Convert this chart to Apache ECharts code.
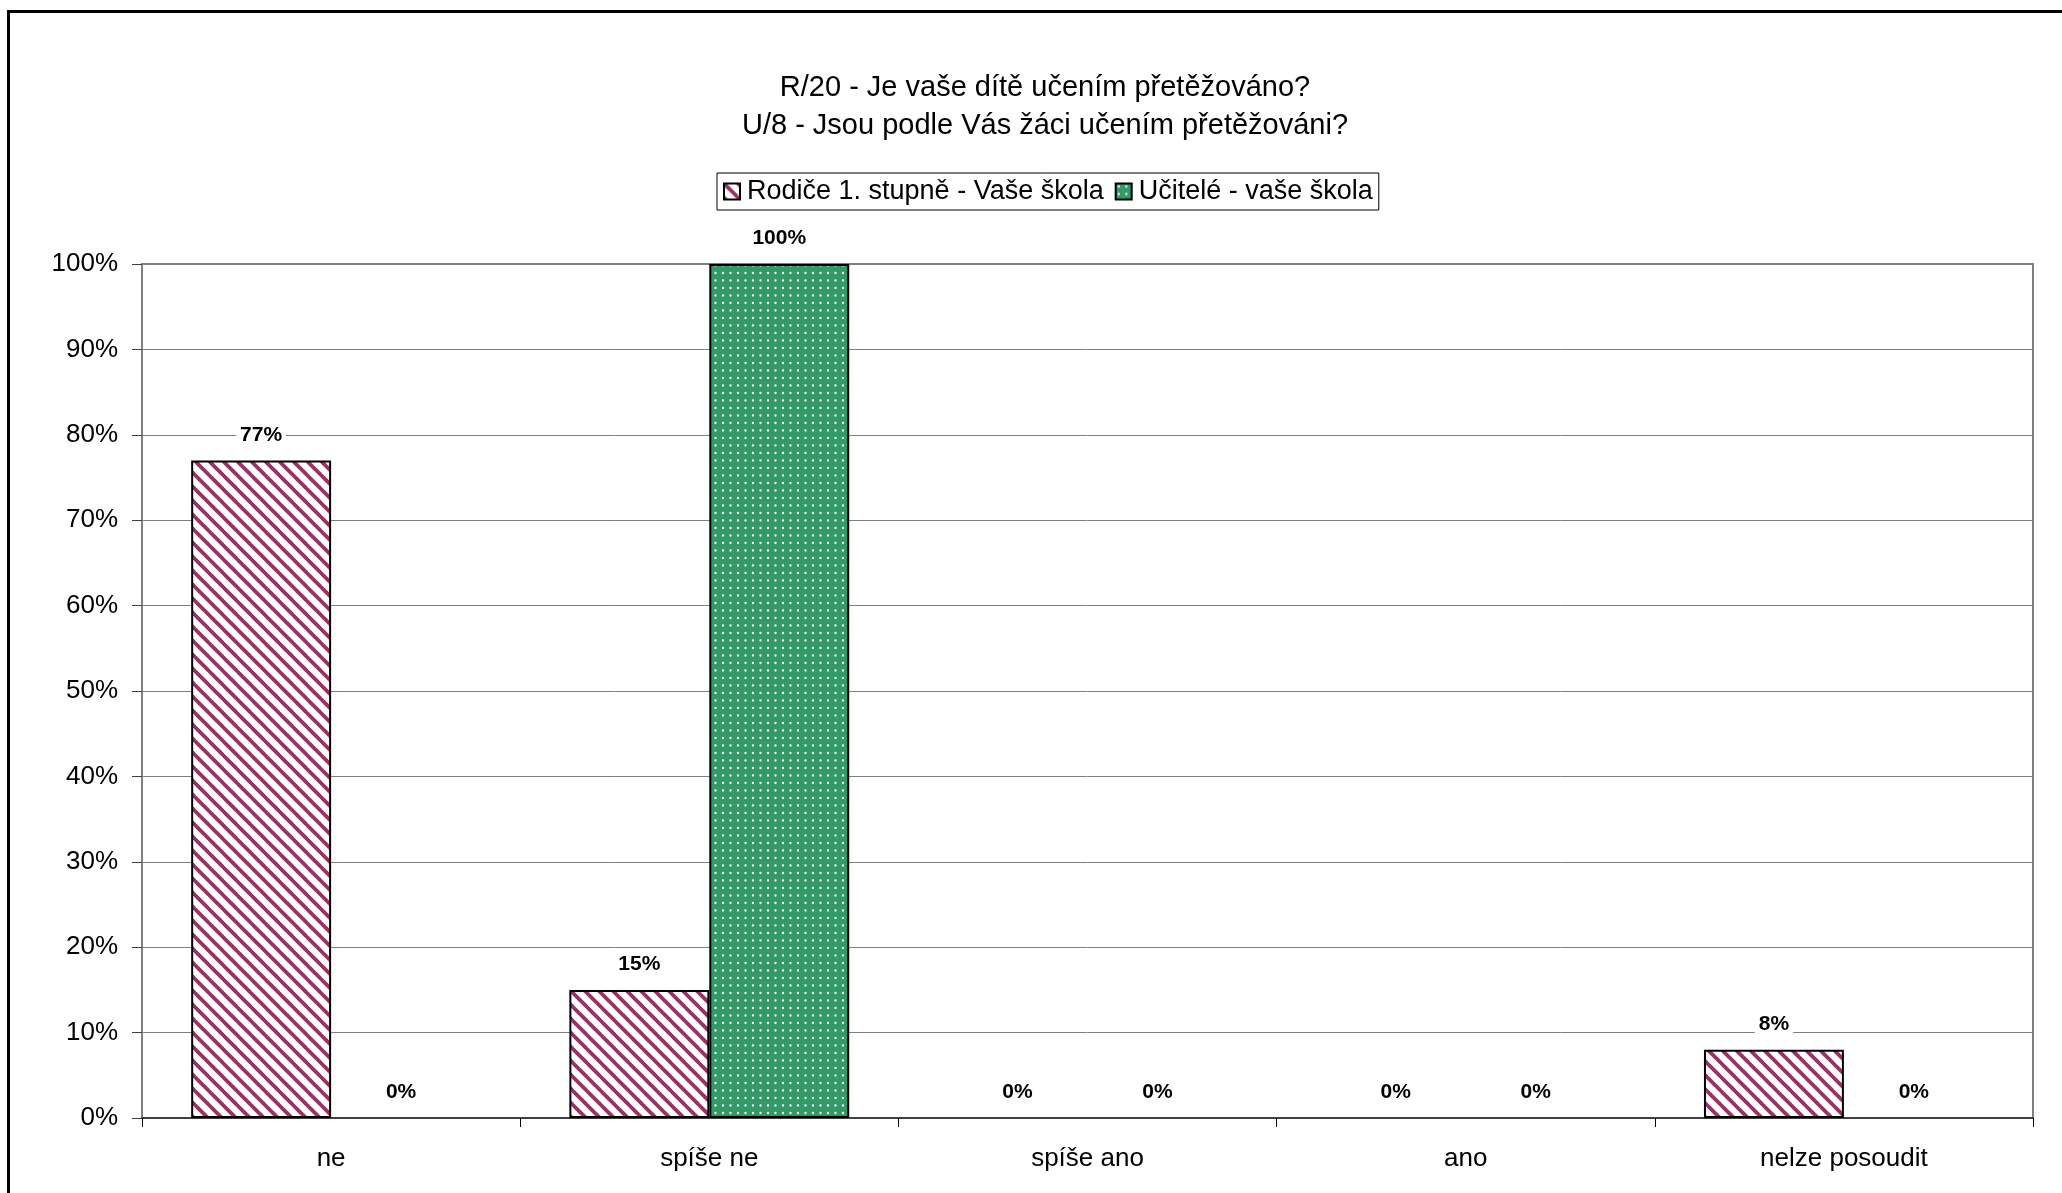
<!DOCTYPE html>
<html>
<head>
<meta charset="utf-8">
<script src="https://cdn.jsdelivr.net/npm/echarts@6/dist/echarts.min.js"></script>
<style>
html,body{margin:0;padding:0;background:#fff;}
#chart{width:2062px;height:1193px;}
</style>
</head>
<body>
<div id="chart"></div>
<script>
const titleLines = ['R/20 - Je vaše dítě učením přetěžováno?', 'U/8 - Jsou podle Vás žáci učením přetěžováni?'];
const categories = ['ne', 'spíše ne', 'spíše ano', 'ano', 'nelze posoudit'];
const seriesNames = ['Rodiče 1. stupně - Vaše škola', 'Učitelé - vaše škola'];
const parentsValues = [77, 15, 0, 0, 8];
const teachersValues = [0, 100, 0, 0, 0];

function stripePattern() {
  const s = 14;
  const c = document.createElement('canvas');
  c.width = s; c.height = s;
  const g = c.getContext('2d');
  g.fillStyle = '#ffffff';
  g.fillRect(0, 0, s, s);
  g.strokeStyle = '#993366';
  g.lineWidth = 3.8;
  for (const k of [-s, 0, s]) {
    g.beginPath();
    g.moveTo(k - 1, -1);
    g.lineTo(k + s + 1, s + 1);
    g.stroke();
  }
  return c;
}
function dotPattern() {
  const s = 15;
  const c = document.createElement('canvas');
  c.width = s; c.height = s;
  const g = c.getContext('2d');
  g.fillStyle = '#339966';
  g.fillRect(0, 0, s, s);
  g.fillStyle = '#ffffff';
  for (const x of [3, 10.5]) for (const y of [3, 10.5]) {
    g.beginPath();
    g.arc(x, y, 1.15, 0, Math.PI * 2);
    g.fill();
  }
  return c;
}

const FONT = '"Liberation Sans", Arial, sans-serif';
const chart = echarts.init(document.getElementById('chart'));

const labelOpt = {
  show: true,
  position: 'top',
  distance: 13,
  formatter: '{c}%',
  fontFamily: FONT,
  fontWeight: 'bold',
  fontSize: 21,
  color: '#000',
  backgroundColor: '#fff',
  padding: [2, 4]
};

function toData(values) {
  return values.map(v => v === 0 ? { value: v, itemStyle: { borderWidth: 0 } } : v);
}

chart.setOption({
  animation: false,
  backgroundColor: '#fff',
  title: {
    text: titleLines.join('\n'),
    left: 1040,
    textAlign: 'center',
    top: 64,
    textStyle: { fontFamily: FONT, fontSize: 29, fontWeight: 'normal', color: '#000', lineHeight: 38 }
  },
  legend: {
    left: 717,
    top: 173,
    icon: 'rect',
    itemWidth: 16,
    itemHeight: 16,
    itemGap: 11,
    padding: [5, 6, 5, 6],
    borderColor: '#000',
    borderWidth: 1,
    textStyle: { fontFamily: FONT, fontSize: 27, color: '#000', padding: [0, 0, 0, 2] },
    data: seriesNames
  },
  grid: {
    left: 142, right: 29, top: 264, bottom: 75,
    show: true,
    borderColor: '#808080',
    borderWidth: 2
  },
  xAxis: {
    type: 'category',
    data: categories,
    axisLine: { lineStyle: { color: '#404040', width: 2 } },
    axisTick: { show: true, length: 9, lineStyle: { color: '#000', width: 1 } },
    axisLabel: { fontFamily: FONT, fontSize: 26, color: '#000', margin: 28 }
  },
  yAxis: {
    type: 'value',
    min: 0, max: 100, interval: 10,
    axisLine: { show: true, lineStyle: { color: '#808080', width: 2 } },
    axisTick: { show: true, length: 10, lineStyle: { color: '#404040', width: 1 } },
    axisLabel: { formatter: '{value}%', fontFamily: FONT, fontSize: 26, color: '#000', margin: 24 },
    splitLine: { show: true, lineStyle: { color: '#808080', width: 1 } }
  },
  series: [
    {
      name: seriesNames[0],
      type: 'bar',
      data: toData(parentsValues),
      barGap: '0%',
      barCategoryGap: '26%',
      itemStyle: { color: { image: stripePattern(), repeat: 'repeat' }, borderColor: '#000', borderWidth: 2 },
      label: labelOpt
    },
    {
      name: seriesNames[1],
      type: 'bar',
      data: toData(teachersValues),
      barGap: '0%',
      barCategoryGap: '26%',
      itemStyle: { color: { image: dotPattern(), repeat: 'repeat' }, borderColor: '#000', borderWidth: 2 },
      label: labelOpt
    }
  ],
  graphic: [{
    type: 'rect',
    shape: { x: 8.5, y: 11.5, width: 2200, height: 1400 },
    style: { fill: 'none', stroke: '#000', lineWidth: 3 },
    silent: true
  }]
});
</script>
</body>
</html>
